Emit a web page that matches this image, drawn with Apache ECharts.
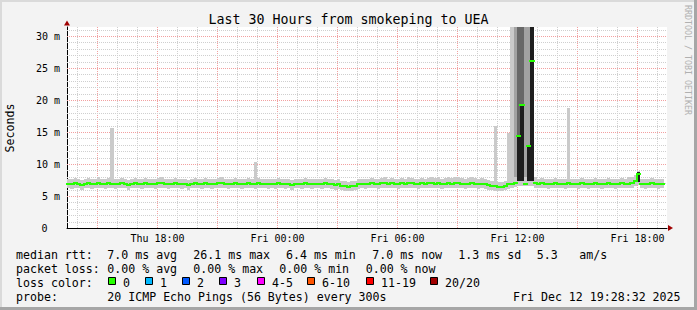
<!DOCTYPE html>
<html><head><meta charset="utf-8">
<script src="https://cdn.jsdelivr.net/npm/echarts@6/dist/echarts.min.js"></script>
<style>html,body{margin:0;padding:0;background:#f3f3f3;}#c{width:697px;height:310px;}</style>
</head><body><div id="c"></div>
<script>
// ---- time base: hours since Thu 00:00, 10-minute slots ----
const startHour = 13 + 28 / 60 + 32 / 3600;   // Thu 13:28:32
const spanHours = 30;
const stepHours = 1 / 6;

// ---- median RTT per slot (ms) ----
const medianMs = [
  6.9,6.8,7.0,6.9,6.7,6.9,7.0,6.8,6.9,7.1,
  6.9,6.8,7.0,6.9,6.8,6.9,7.0,6.9,6.7,6.9,
  7.0,6.9,6.8,7.0,6.9,6.9,6.8,7.0,7.1,6.9,
  6.8,6.9,7.0,6.9,6.8,6.9,6.7,6.9,7.0,6.9,
  6.8,7.0,6.9,6.8,6.9,7.0,7.1,6.9,6.8,6.9,
  7.0,6.9,6.8,6.9,7.0,6.9,6.8,7.0,6.9,6.9,
  6.8,6.9,6.8,7.0,6.9,6.8,6.9,6.7,6.9,6.9,
  6.8,7.0,6.9,6.8,6.9,6.9,6.8,7.0,6.9,6.8,
  6.7,6.8,6.6,6.5,6.4,6.5,6.6,6.8,6.9,6.8,
  6.9,7.0,6.9,6.8,7.0,7.1,6.9,7.0,6.9,6.8,
  7.0,6.9,7.1,7.0,6.9,6.8,7.0,6.9,7.0,7.1,
  6.9,7.0,6.8,6.9,7.0,6.9,7.1,7.0,6.9,6.8,
  6.9,7.0,6.9,6.8,6.9,6.8,6.7,6.6,6.5,6.4,
  6.4,6.5,6.8,6.9,7.0,14.3,19.2,6.9,12.8,26.1,
  7.1,6.9,7.0,6.9,6.8,6.9,7.0,6.9,6.9,6.8,
  7.0,6.9,6.9,6.8,7.0,6.9,6.8,6.9,7.0,6.9,
  6.8,6.9,7.0,6.9,6.8,6.9,7.0,6.9,6.9,7.0,
  7.4,8.5,6.9,6.8,6.9,7.0,6.9,6.8,6.9,null
];
// ---- smoke (lowest / highest ping per slot, ms) ----
const smokeLoMs = [
  6.2,6.1,6.3,6.2,6.0,6.2,6.3,6.1,6.2,6.3,
  6.2,6.1,6.2,6.2,6.1,6.2,6.3,6.2,6.0,6.2,
  6.3,6.2,6.1,6.3,6.2,6.2,6.1,6.2,6.3,6.2,
  6.1,6.2,6.3,6.2,6.1,6.2,6.0,6.2,6.3,6.2,
  6.1,6.3,6.2,6.1,6.2,6.3,6.3,6.2,6.1,6.2,
  6.3,6.2,6.1,6.2,6.3,6.2,6.1,6.3,6.2,6.2,
  6.1,6.2,6.1,6.3,6.2,6.1,6.2,6.0,6.2,6.2,
  6.1,6.3,6.2,6.1,6.2,6.2,6.1,6.3,6.2,6.1,
  6.0,6.1,5.9,5.8,5.8,5.8,5.9,6.1,6.2,6.1,
  6.2,6.3,6.2,6.1,6.3,6.3,6.2,6.3,6.2,6.1,
  6.3,6.2,6.3,6.3,6.2,6.1,6.3,6.2,6.3,6.3,
  6.2,6.3,6.1,6.2,6.3,6.2,6.3,6.3,6.2,6.1,
  6.2,6.3,6.2,6.1,6.2,6.1,6.0,5.9,5.8,5.8,
  5.8,5.9,6.1,6.3,6.4,6.6,6.6,6.5,6.6,6.6,
  6.3,6.2,6.3,6.2,6.1,6.2,6.3,6.2,6.2,6.1,
  6.3,6.2,6.2,6.1,6.3,6.2,6.1,6.2,6.3,6.2,
  6.1,6.2,6.3,6.2,6.1,6.2,6.3,6.2,6.3,6.3,
  6.5,6.7,6.2,6.1,6.2,6.3,6.2,6.1,6.2,null
];
const smokeHiMs = [
  7.7,7.6,7.8,7.7,7.5,7.7,7.8,7.6,7.7,7.9,
  7.7,7.6,7.8,15.6,7.6,7.7,7.8,7.7,7.5,7.7,
  7.8,7.7,7.6,7.8,7.7,7.7,7.6,7.8,7.9,7.7,
  7.6,7.7,7.8,7.7,7.6,7.7,7.5,7.7,7.8,7.7,
  7.6,7.8,7.7,7.6,7.7,7.8,7.9,7.7,7.6,7.7,
  7.8,7.7,7.6,7.7,7.8,7.7,10.3,7.8,7.7,7.7,
  7.6,7.7,7.6,7.8,7.7,7.6,7.7,7.5,7.7,7.7,
  7.6,7.8,7.7,7.6,7.7,7.7,7.6,7.8,7.7,7.6,
  7.5,7.6,7.4,7.3,7.2,7.3,7.4,7.6,7.7,7.6,
  7.7,7.8,7.7,7.6,7.8,7.9,7.7,7.8,7.7,7.6,
  7.8,7.7,7.9,7.8,7.7,7.6,7.8,7.7,7.8,7.9,
  7.8,7.9,7.7,7.8,7.9,7.8,8.0,7.9,7.8,7.7,
  7.8,7.9,7.8,7.7,7.8,7.6,7.5,7.4,16.0,7.2,
  7.2,7.3,14.8,40,40,40,40,40,40,40,
  7.9,7.7,7.8,7.7,7.6,7.7,7.8,7.7,7.7,7.6,
  18.7,7.7,7.7,7.6,7.8,7.7,7.6,7.7,7.8,7.7,
  7.6,7.7,7.8,7.7,7.6,7.7,7.8,7.7,7.9,8.0,
  8.3,8.9,7.7,7.6,7.7,7.8,7.7,7.6,7.7,null
];
// denser smoke bands: [slot, low ms, high ms, density level 1..3]
const smokeBands = [
  [134, 8.0, 40, 1], [137, 8.0, 40, 1], [138, 7.5, 40, 1],
  [135, 7.3, 40, 2], [136, 7.3, 40, 2],
  [135, 7.3, 14.3, 3], [136, 7.3, 19.2, 3], [138, 7.3, 12.8, 3], [139, 7.3, 40, 3], [171, 7.2, 8.8, 3]
];

// ---- ticks ----
const xTickHours = [18, 24, 30, 36, 42];
const yTickMs = [0, 5, 10, 15, 20, 25, 30];

// ---- legend texts ----
const rttStats = [['median rtt:', 16], ['7.0 ms avg', 107.3], ['26.1 ms max', 193.3], ['6.4 ms min', 286], ['7.0 ms now', 372.3], ['1.3 ms sd', 458.3], ['5.3', 536.7], ['am/s', 579.3]];
const lossStats = [['packet loss:', 16], ['0.00 % avg', 107.3], ['0.00 % max', 193.3], ['0.00 % min', 279.3], ['0.00 % now', 365.7]];
const lossLabels = ['0', '1', '2', '3', '4-5', '6-10', '11-19', '20/20'];
const lossColors = ['#26ff00', '#00b8ff', '#0059ff', '#7e00ff', '#ff00ff', '#ff5500', '#ff0000', '#a10000'];
const lossBoxX = [108, 145, 182, 219, 257, 307, 366, 430];
const probeText = '20 ICMP Echo Pings (56 Bytes) every 300s';
const dateText = 'Fri Dec 12 19:28:32 2025';
const titleText = 'Last 30 Hours from smokeping to UEA';

// ---- layout ----
const G = { left: 67, right: 30, top: 27, bottom: 82 };
const plotH = 310 - G.top - G.bottom;
const yMax = plotH / 6.4;
const xMin = startHour, xMax = startHour + spanHours;
const MONO = '"DejaVu Sans Mono", "Liberation Mono", monospace';
const GREEN = lossColors[0];
const SMOKE_SHADES = ['#cacaca', '#a2a2a2', '#686868', '#1e1e1e'];

const chart = echarts.init(document.getElementById('c'), null, { renderer: 'svg' });

// grid line table
const gridLines = [];
for (let h = Math.ceil(xMin); h <= xMax; h++) gridLines.push([0, h, h % 3 === 0 ? 1 : 0]);
for (let m = 1; m <= yMax; m++) gridLines.push([1, m, m % 5 === 0 ? 1 : 0]);

const smokeData = [];
for (let i = 0; i < smokeLoMs.length; i++) if (smokeLoMs[i] != null && smokeHiMs[i] != null) smokeData.push([startHour + i * stepHours, smokeLoMs[i], smokeHiMs[i], 0]);
smokeBands.forEach(d => smokeData.push([startHour + d[0] * stepHours, d[1], d[2], d[3]]));
const medianData = [];
medianMs.forEach((v, i) => { if (v != null) medianData.push([startHour + i * stepHours, v, i]); });

const graphics = [];
function txt(text, x, y, size, opts) {
  opts = opts || {};
  graphics.push({
    type: 'text', x: x, y: y, rotation: opts.rotation || 0, silent: true, z: 10,
    style: { text: text, font: size + 'px ' + MONO, fill: opts.fill || '#000',
      textAlign: opts.align || 'left', align: opts.align || 'left',
      textVerticalAlign: 'middle', verticalAlign: 'middle' }
  });
}
// frame
graphics.push({ type: 'rect', silent: true, z: 0, shape: { x: 0, y: 0, width: 697, height: 2 }, style: { fill: '#dadada' } });
graphics.push({ type: 'rect', silent: true, z: 0, shape: { x: 0, y: 0, width: 2, height: 310 }, style: { fill: '#dadada' } });
graphics.push({ type: 'rect', silent: true, z: 0, shape: { x: 0, y: 307, width: 697, height: 3 }, style: { fill: '#a6a6a6' } });
graphics.push({ type: 'rect', silent: true, z: 0, shape: { x: 694, y: 0, width: 3, height: 310 }, style: { fill: '#a6a6a6' } });

txt(titleText, 348.5, 19, 13.3, { align: 'center' });
txt('Seconds', 9.5, 128, 11.6, { align: 'center', rotation: Math.PI / 2 });
txt('RRDTOOL / TOBI OETIKER', 688, 60, 8.3, { align: 'center', rotation: -Math.PI / 2, fill: '#b0b0b0' });
rttStats.forEach(s => txt(s[0], s[1], 255, 11.6));
lossStats.forEach(s => txt(s[0], s[1], 268.5, 11.6));
txt('loss color:', 16, 282.5, 11.6);
lossLabels.forEach((l, i) => {
  graphics.push({ type: 'rect', silent: true, z: 10, shape: { x: lossBoxX[i] + 0.5, y: 277.5, width: 7, height: 7 },
    style: { fill: lossColors[i], stroke: '#000', lineWidth: 1 } });
  txt(l, lossBoxX[i] + 15, 282.5, 11.6);
});
txt('probe:', 16, 296.5, 11.6);
txt(probeText, 107.3, 296.5, 11.6);
txt(dateText, 513, 296.5, 11.6);

const labelFont = { fontFamily: MONO, fontSize: 10, color: '#000' };

chart.setOption({
  animation: false,
  backgroundColor: '#f3f3f3',
  grid: { left: G.left, right: G.right, top: G.top, bottom: G.bottom, show: true, backgroundColor: '#ffffff', borderWidth: 0 },
  xAxis: [{
    type: 'value', min: xMin, max: xMax,
    axisLine: { show: true, onZero: false, lineStyle: { color: '#000', width: 1 } },
    axisTick: { show: false }, splitLine: { show: false },
    axisLabel: Object.assign({ customValues: xTickHours, margin: 5,
      formatter: v => (v < 24 ? 'Thu ' : 'Fri ') + String(Math.round(v) % 24).padStart(2, '0') + ':00' }, labelFont)
  }, {
    type: 'value', min: xMin, max: xMax, position: 'bottom',
    axisLine: { show: true, onZero: false, symbol: ['none', 'triangle'], symbolSize: [6, 5], symbolOffset: [0, 3.5], lineStyle: { color: '#a00000', width: 0 } },
    axisTick: { show: false }, splitLine: { show: false }, axisLabel: { show: false }
  }],
  yAxis: [{
    type: 'value', min: 0, max: yMax,
    axisLine: { show: true, onZero: false, lineStyle: { color: '#000', width: 1 } },
    axisTick: { show: false }, splitLine: { show: false },
    axisLabel: Object.assign({ customValues: yTickMs, margin: 7,
      formatter: v => v === 0 ? '{z|0}' : v + ' m',
      rich: { z: Object.assign({ padding: [0, 12.5, 0, 0] }, labelFont) } }, labelFont)
  }, {
    type: 'value', min: 0, max: yMax, position: 'left',
    axisLine: { show: true, onZero: false, symbol: ['none', 'triangle'], symbolSize: [6, 5], symbolOffset: [0, 4], lineStyle: { color: '#a00000', width: 0 } },
    axisTick: { show: false }, splitLine: { show: false }, axisLabel: { show: false }
  }],
  graphic: graphics,
  series: [
    {
      name: 'grid', type: 'custom', z: 1, silent: true, data: gridLines, encode: { x: 1, y: 1 },
      renderItem: function (params, api) {
        const kind = api.value(0), v = api.value(1), major = api.value(2);
        const style = { stroke: major ? '#f2a0a0' : '#cfcfcf', lineWidth: 1, lineDash: [1, 1] };
        if (kind === 0) {
          const x = Math.round(api.coord([v, 0])[0]) + 0.5;
          return { type: 'line', shape: { x1: x, y1: G.top, x2: x, y2: 310 - G.bottom }, style: style };
        }
        const y = Math.round(api.coord([xMin, v])[1]) + 0.5;
        return { type: 'line', shape: { x1: G.left, y1: y, x2: 697 - G.right, y2: y }, style: style };
      }
    },
    {
      name: 'smoke', type: 'custom', z: 2, silent: true, data: smokeData, encode: { x: 0, y: [1, 2] },
      renderItem: function (params, api) {
        const t = api.value(0), lo = api.value(1), hi = Math.min(api.value(2), yMax), lvl = api.value(3);
        const p0 = api.coord([t, lo]), p1 = api.coord([t + stepHours, hi]);
        const x0 = Math.round(p0[0]), x1 = Math.round(p1[0]);
        const y0 = Math.round(p0[1]), y1 = Math.round(p1[1]);
        return { type: 'rect', shape: { x: x0, y: y1, width: x1 - x0, height: Math.max(1, y0 - y1) }, style: { fill: SMOKE_SHADES[lvl] } };
      }
    },
    {
      name: 'median rtt', type: 'custom', z: 5, silent: true, data: medianData, encode: { x: 0, y: 1 },
      renderItem: function (params, api) {
        const t = api.value(0), v = api.value(1), i = api.value(2);
        const a = api.coord([t, v]), b = api.coord([t + stepHours, v]);
        const y = Math.round(a[1]), x0 = Math.round(a[0]), x1 = Math.round(b[0]);
        const st = { stroke: GREEN, lineWidth: 2, lineCap: 'square' };
        const children = [{ type: 'line', shape: { x1: x0, y1: y, x2: x1, y2: y }, style: st }];
        const pv = medianMs[i - 1];
        if (pv != null && Math.abs(pv - v) < 1.5) {
          const py = Math.round(api.coord([t, pv])[1]);
          children.push({ type: 'line', shape: { x1: x0, y1: py, x2: x0, y2: y }, style: st });
        }
        return { type: 'group', children: children };
      }
    }
  ]
});
</script></body></html>
